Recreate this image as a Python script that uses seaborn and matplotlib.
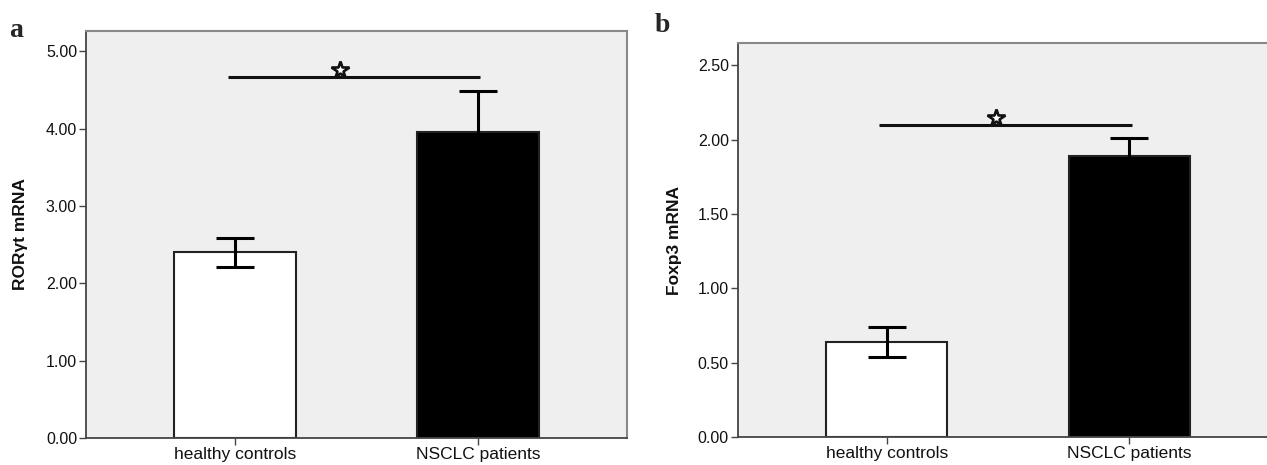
import matplotlib
matplotlib.use("Agg")
import matplotlib.pyplot as plt
import matplotlib.transforms as mtrans
import seaborn as sns
import pandas as pd

categories = ["healthy controls", "NSCLC patients"]
ror_means = [2.40, 3.95]
ror_err = [0.19, 0.54]
foxp3_means = [0.64, 1.89]
foxp3_err = [0.10, 0.12]
ror_ticks = [0.0, 1.0, 2.0, 3.0, 4.0, 5.0]
foxp3_ticks = [0.0, 0.5, 1.0, 1.5, 2.0, 2.5]
ror_sig = 4.66
foxp3_sig = 2.10
bar_colors = ["white", "black"]

sns.set_style("white")
plt.rcParams["font.family"] = ["Liberation Sans", "DejaVu Sans"]

fig = plt.figure(figsize=(12.67, 4.65), dpi=100)
ax_a = fig.add_axes([0.0679, 0.0581, 0.4270, 0.8752])
ax_b = fig.add_axes([0.5825, 0.0602, 0.4262, 0.8473])


def draw(ax, means, errs, ticks, ylim, ylabel, sig_y, star_x, label_x):
    df = pd.DataFrame({"group": categories, "value": means})
    sns.barplot(data=df, x="group", y="value", hue="group", palette=bar_colors,
                order=categories, hue_order=categories, legend=False,
                width=0.5, edgecolor="#222222", linewidth=1.5, errorbar=None,
                ax=ax, zorder=2)
    ax.errorbar(range(len(categories)), means, yerr=errs, fmt="none",
                ecolor="black", elinewidth=2.2, capsize=14, capthick=2.2,
                zorder=3)
    ax.set_facecolor("#efefef")
    ax.set_xlim(-0.613, 1.613)
    ax.set_ylim(*ylim)
    ax.set_yticks(ticks)
    ax.set_yticklabels([f"{t:.2f}" for t in ticks], fontsize=11.5, color="#111111")
    ax.set_xticks(range(len(categories)))
    ax.set_xticklabels(categories, fontsize=12.5, color="#111111")
    ax.tick_params(axis="both", direction="out", length=5, width=1,
                   color="#444444", pad=1.5, bottom=True, left=True)
    ax.set_xlabel("")
    ax.set_ylabel(ylabel, fontsize=12.5, fontweight="bold", color="#111111")
    ax.yaxis.set_label_coords(label_x, 0.5)
    for side in ["top", "right"]:
        ax.spines[side].set_color("#888888")
        ax.spines[side].set_linewidth(1.5)
    for side in ["left", "bottom"]:
        ax.spines[side].set_color("#444444")
        ax.spines[side].set_linewidth(1.3)
    ax.plot([-0.03, 1.01], [sig_y, sig_y], color="#111111", lw=2.2, zorder=3,
            solid_capstyle="butt")
    star = ax.plot([star_x], [sig_y], marker="*", markersize=13, mfc="white",
                   mec="#111111", mew=1.9, zorder=4, linestyle="none")[0]
    star.set_transform(ax.transData +
                       mtrans.ScaledTranslation(0, 5 / 72, fig.dpi_scale_trans))


draw(ax_a, ror_means, ror_err, ror_ticks, (0, 5.26), "RORγt mRNA", ror_sig, 0.43, -0.108)
draw(ax_b, foxp3_means, foxp3_err, foxp3_ticks, (0, 2.65), "Foxp3 mRNA", foxp3_sig, 0.45, -0.104)

fig.text(0.0075, 0.935, "a", fontsize=20, fontweight="bold",
         family=["Liberation Serif", "DejaVu Serif"], va="center")
fig.text(0.517, 0.945, "b", fontsize=20, fontweight="bold",
         family=["Liberation Serif", "DejaVu Serif"], va="center")

fig.savefig("out.png", dpi=100)
